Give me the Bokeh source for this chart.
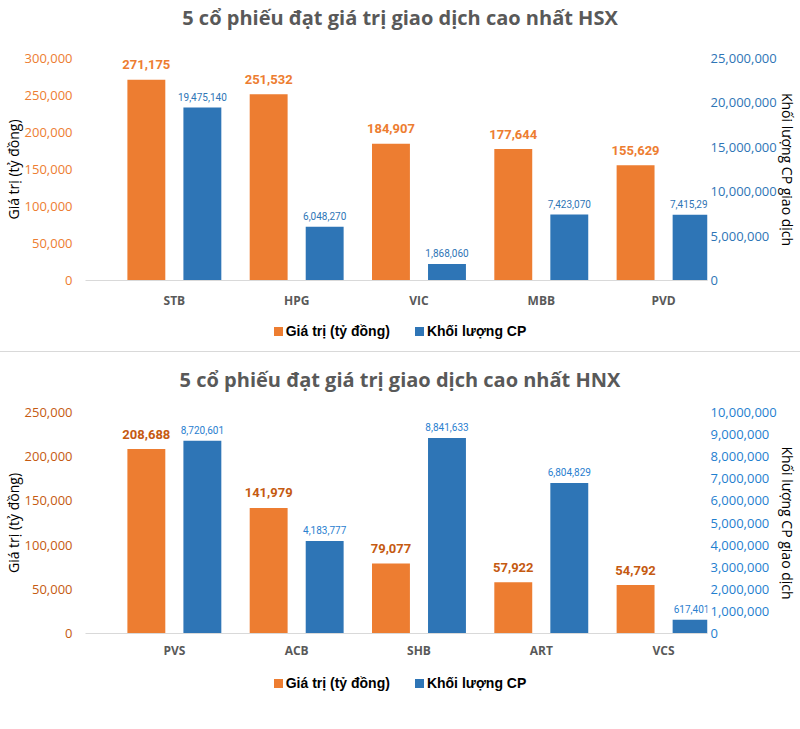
from bokeh.plotting import figure
from bokeh.models import (Range1d, LinearAxis, NumeralTickFormatter, FixedTicker,
                          ColumnDataSource, LabelSet, Div)
from bokeh.core.properties import value
from bokeh.layouts import column
from bokeh.embed import file_html
from bokeh.resources import INLINE

# ---- data ----
hsx_title = "5 cổ phiếu đạt giá trị giao dịch cao nhất HSX"
hsx_tickers = ["STB", "HPG", "VIC", "MBB", "PVD"]
hsx_value = [271175, 251532, 184907, 177644, 155629]
hsx_volume = [19475140, 6048270, 1868060, 7423070, 7415290]

hnx_title = "5 cổ phiếu đạt giá trị giao dịch cao nhất HNX"
hnx_tickers = ["PVS", "ACB", "SHB", "ART", "VCS"]
hnx_value = [208688, 141979, 79077, 57922, 54792]
hnx_volume = [8720601, 4183777, 8841633, 6804829, 617401]

left_ticks_hsx = [0, 50000, 100000, 150000, 200000, 250000, 300000]
right_ticks_hsx = [0, 5000000, 10000000, 15000000, 20000000, 25000000]
left_ticks_hnx = [0, 50000, 100000, 150000, 200000, 250000]
right_ticks_hnx = [0, 1000000, 2000000, 3000000, 4000000, 5000000,
                   6000000, 7000000, 8000000, 9000000, 10000000]

series_names = ["Giá trị (tỷ đồng)", "Khối lượng CP"]
left_title = "Giá trị (tỷ đồng)"
right_title = "Khối lượng CP giao dịch"

ORANGE = "#ED7D31"
BLUE = "#2E75B6"
W = 800


def make_chart(tickers, values, volumes, lticks, rticks, height,
               border_top, border_bottom, lcol, ocol, bcol, rcol, xstand):
    n = len(tickers)
    idx = list(range(n))
    p = figure(width=W, height=height, output_backend="svg", toolbar_location=None,
               x_range=Range1d(-0.7265, 4.359), y_range=Range1d(lticks[0], lticks[-1]),
               min_border_left=84, min_border_right=93,
               min_border_top=border_top, min_border_bottom=border_bottom)
    p.outline_line_color = None
    p.grid.grid_line_color = None
    p.background_fill_color = "white"
    p.border_fill_color = "white"

    p.extra_y_ranges = {"vol": Range1d(rticks[0], rticks[-1])}

    src = ColumnDataSource(dict(
        xo=[i - 0.229 for i in idx], xb=[i + 0.229 for i in idx],
        val=values, vol=volumes,
        vlab=[f"{v:,}" for v in values], blab=[f"{v:,}" for v in volumes]))

    p.vbar(x="xo", top="val", width=0.31, source=src, fill_color=ORANGE,
           line_color=None)
    p.vbar(x="xb", top="vol", width=0.31, source=src, fill_color=BLUE,
           line_color=None, y_range_name="vol")

    p.add_layout(LabelSet(x="xo", y="val", text="vlab", source=src, y_offset=15,
                          text_align="center", text_baseline="middle",
                          text_font=value("Roboto"), text_font_style="bold",
                          text_font_size="13px", text_color=ocol))
    p.add_layout(LabelSet(x="xb", y="vol", text="blab", source=src, y_offset=11,
                          y_range_name="vol",
                          text_align="center", text_baseline="middle",
                          text_font=value("Roboto"),
                          text_font_size="10px", text_color=bcol))

    # x axis
    xa = p.xaxis[0]
    xa.ticker = FixedTicker(ticks=idx)
    xa.major_label_overrides = {i: t for i, t in zip(idx, tickers)}
    xa.axis_line_color = "#D9D9D9"
    xa.axis_line_width = 1
    xa.major_tick_line_color = None
    xa.minor_tick_line_color = None
    xa.major_tick_out = 0
    xa.major_tick_in = 0
    xa.minor_tick_out = 0
    xa.major_label_standoff = xstand
    xa.major_label_text_font = "Open Sans"
    xa.major_label_text_font_style = "bold"
    xa.major_label_text_font_size = "12px"
    xa.major_label_text_color = "#595959"

    # left axis
    ya = p.yaxis[0]
    ya.ticker = FixedTicker(ticks=lticks)
    ya.formatter = NumeralTickFormatter(format="0,0")
    ya.axis_line_color = None
    ya.major_tick_line_color = None
    ya.minor_tick_line_color = None
    ya.major_tick_out = 0
    ya.major_tick_in = 0
    ya.minor_tick_out = 0
    ya.major_label_standoff = 13
    ya.major_label_text_font = "Open Sans"
    ya.major_label_text_font_size = "13px"
    ya.major_label_text_color = lcol
    ya.axis_label = left_title
    ya.axis_label_standoff = -1
    ya.axis_label_text_font = "Open Sans"
    ya.axis_label_text_font_style = "normal"
    ya.axis_label_text_font_size = "14px"
    ya.axis_label_text_line_height = 1.0
    ya.axis_label_text_color = "#000000"

    ra = LinearAxis(y_range_name="vol", ticker=FixedTicker(ticks=rticks),
                    formatter=NumeralTickFormatter(format="0,0"))
    ra.axis_line_color = None
    ra.major_tick_line_color = None
    ra.minor_tick_line_color = None
    ra.major_tick_out = 0
    ra.major_tick_in = 0
    ra.minor_tick_out = 0
    ra.major_label_standoff = 3
    ra.major_label_text_font = "Open Sans"
    ra.major_label_text_font_size = "13px"
    ra.major_label_text_color = rcol
    ra.axis_label = right_title
    ra.axis_label_standoff = -2
    ra.axis_label_text_font = "Open Sans"
    ra.axis_label_text_font_style = "normal"
    ra.axis_label_text_font_size = "14px"
    ra.axis_label_text_color = "#000000"
    p.add_layout(ra, "right")
    return p


def title_div(text, height, pad_top):
    html = (
        f"<div style=\"width:{W}px;height:{height}px;box-sizing:border-box;"
        f"padding-top:{pad_top}px;text-align:center;font-family:'Open Sans';"
        "font-weight:bold;font-size:20px;line-height:36px;color:#595959;"
        f"white-space:nowrap;\">{text}</div>")
    return Div(text=html, width=W, height=height, margin=0)


def legend_div(height, pad_top):
    sq = ("display:inline-block;width:9px;height:9px;margin-right:3px;"
          "vertical-align:middle;background:{};")
    html = (
        f"<div style=\"width:{W}px;height:{height}px;box-sizing:border-box;"
        f"padding-top:{pad_top}px;text-align:center;font-family:'Liberation Sans';"
        "font-weight:bold;font-size:14px;line-height:18px;color:#000000;white-space:nowrap;\">"
        f"<span style=\"{sq.format(ORANGE)}\"></span>"
        f"<span style=\"vertical-align:middle;\">{series_names[0]}</span>"
        f"<span style=\"{sq.format(BLUE)}margin-left:25px;\"></span>"
        f"<span style=\"vertical-align:middle;\">{series_names[1]}</span>"
        "</div>")
    return Div(text=html, width=W, height=height, margin=0)


t1 = title_div(hsx_title, 36, 0)
p1 = make_chart(hsx_tickers, hsx_value, hsx_volume, left_ticks_hsx,
                right_ticks_hsx, 276, 22, 32, "#ED7D31", "#ED7D31", "#2E75B6",
                "#2E75B6", 11)
leg1 = legend_div(39, 9)
sep = Div(text="", width=W, height=1, margin=0,
          styles={"background-color": "#D9D9D9"})
t2 = title_div(hnx_title, 46, 10)
p2 = make_chart(hnx_tickers, hnx_value, hnx_volume, left_ticks_hnx,
                right_ticks_hnx, 267, 14, 32, "#C55A11", "#C55A11", "#2A80CF",
                "#1F80CF", 8)
leg2 = legend_div(40, 8)

layout = column(t1, p1, leg1, sep, t2, p2, leg2, spacing=0)

open("out.html", "w").write(file_html(layout, INLINE))
